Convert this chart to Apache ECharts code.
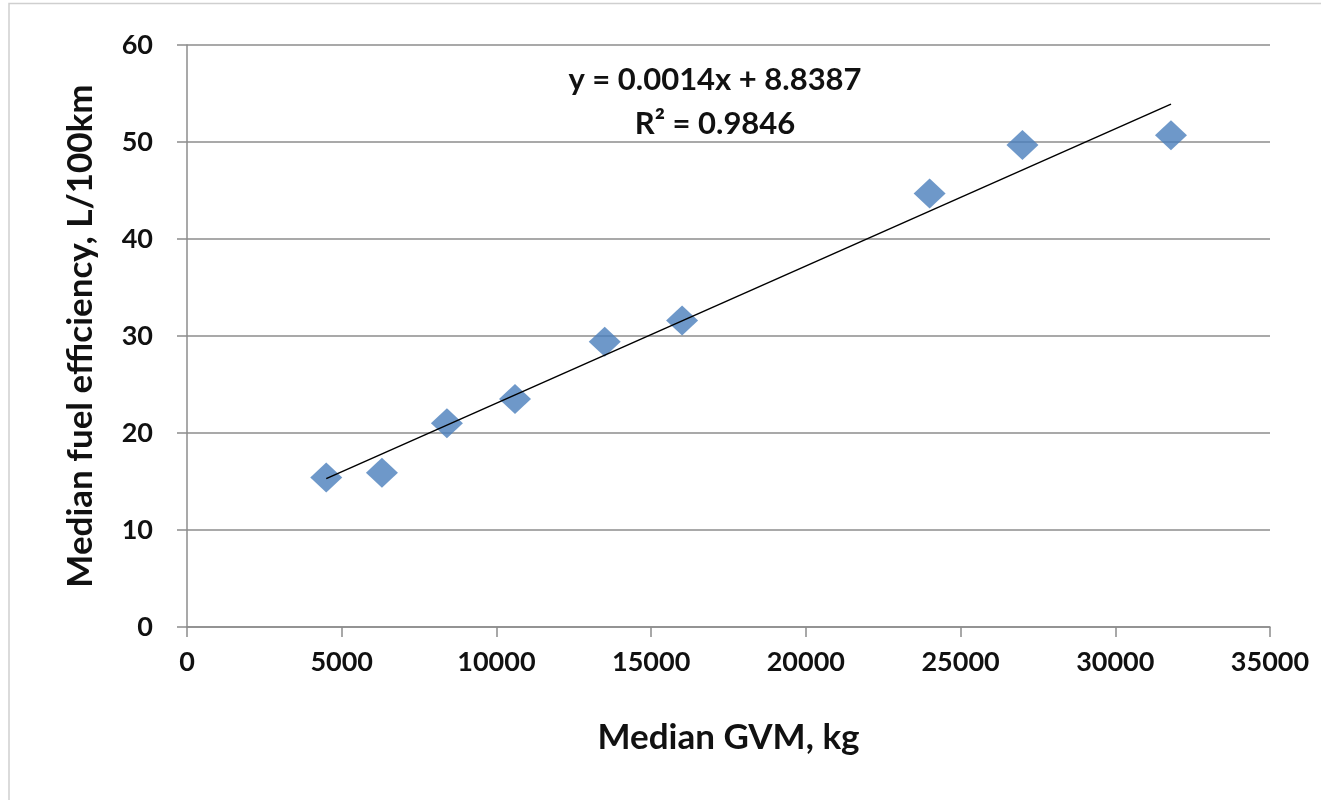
<!DOCTYPE html>
<html>
<head>
<meta charset="utf-8">
<script src="https://cdn.jsdelivr.net/npm/echarts@6/dist/echarts.min.js"></script>
<style>
  html, body { margin: 0; padding: 0; background: #fff; }
  #chart { width: 1321px; height: 800px; }
</style>
</head>
<body>
<div id="chart"></div>
<script>
var gvm = [4500, 6300, 8400, 10600, 13500, 16000, 24000, 27000, 31800];
var fuel = [15.4, 15.9, 21.0, 23.5, 29.4, 31.6, 44.7, 49.7, 50.7];
// trend line ends as drawn in the picture
var trendX = [4500, 31800];
var trendY = [15.3, 53.9];
var eqText = ['y = 0.0014x + 8.8387', 'R\u00b2 = 0.9846'];

var myChart = echarts.init(document.getElementById('chart'));
var font = 'Lato, "Open Sans", sans-serif';
var gridColor = '#8c8c8c';

var points = gvm.map(function (x, i) { return [x, fuel[i]]; });
var trend = trendX.map(function (x, i) { return [x, trendY[i]]; });

option = {
    backgroundColor: '#fff',
    animation: false,
    grid: { left: 187, right: 51, top: 45, bottom: 173 },
    xAxis: {
        type: 'value',
        min: 0, max: 35000, interval: 5000,
        name: 'Median GVM, kg',
        nameLocation: 'middle',
        nameGap: 93,
        nameTextStyle: { fontFamily: font, fontSize: 35, fontWeight: 'bold', color: '#111' },
        axisLine: { show: true, lineStyle: { color: gridColor, width: 1.5 } },
        axisTick: { show: true, inside: false, length: 10, lineStyle: { color: gridColor, width: 1.5 } },
        axisLabel: { fontFamily: font, fontSize: 27, fontWeight: 'bold', color: '#111', margin: 22,
                     formatter: function (v) { return String(v); } },
        splitLine: { show: false }
    },
    yAxis: {
        type: 'value',
        min: 0, max: 60, interval: 10,
        name: 'Median fuel efficiency, L/100km',
        nameLocation: 'middle',
        nameGap: 89,
        nameTextStyle: { fontFamily: font, fontSize: 35, fontWeight: 'bold', color: '#111' },
        axisLine: { show: true, lineStyle: { color: gridColor, width: 1.5 } },
        axisTick: { show: true, inside: false, length: 10, lineStyle: { color: gridColor, width: 1.5 } },
        axisLabel: { fontFamily: font, fontSize: 27, fontWeight: 'bold', color: '#111', margin: 34 },
        splitLine: { show: true, lineStyle: { color: gridColor, width: 1.5 } }
    },
    graphic: [
        {
            type: 'text', x: 715, y: 58,
            style: { text: eqText.join('\n'), fontFamily: font, fontSize: 31, fontWeight: 'bold',
                     fill: '#111', align: 'center', lineHeight: 44 }
        },
        {
            type: 'polyline', shape: { points: [[9, 800], [9, 3.5], [1321, 3.5]] },
            style: { fill: 'none', stroke: '#cfcfcf', lineWidth: 1.5 }, silent: true
        }
    ],
    series: [
        {
            name: 'Trend',
            type: 'line',
            data: trend,
            symbol: 'none',
            lineStyle: { color: '#000', width: 1.5 },
            z: 3
        },
        {
            name: 'GVM',
            type: 'scatter',
            data: points,
            symbol: 'diamond',
            symbolSize: [32, 30],
            itemStyle: { color: '#4a7ebb' },
            z: 2
        }
    ]
};

myChart.setOption(option);
</script>
</body>
</html>
